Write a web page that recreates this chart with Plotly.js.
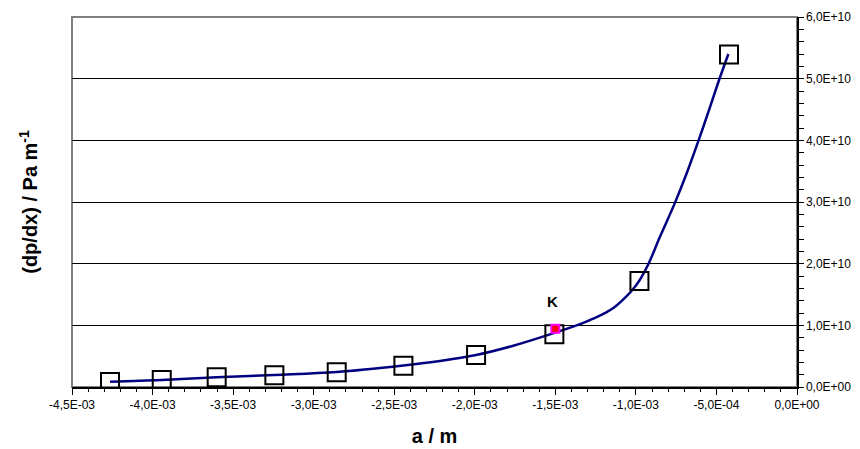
<!DOCTYPE html>
<html>
<head>
<meta charset="utf-8">
<script src="https://cdn.plot.ly/plotly-3.0.1.min.js"></script>
<style>
  html, body { margin: 0; padding: 0; background: #ffffff; }
  #chart { width: 860px; height: 449px; }
</style>
</head>
<body>
<div id="chart"></div>
<script>
// Measured points (crack length a, pressure gradient dp/dx)
const aMeasured = [-4.264e-3, -3.943e-3, -3.602e-3, -3.244e-3, -2.857e-3, -2.443e-3, -1.992e-3, -1.506e-3, -0.978e-3, -0.422e-3];
const dpdxMeasured = [0.81e9, 1.13e9, 1.57e9, 1.90e9, 2.38e9, 3.45e9, 5.19e9, 8.54e9, 1.72e10, 5.39e10];

// Model curve
const aCurve = [-4.264e-3, -3.943e-3, -3.602e-3, -3.244e-3, -2.857e-3, -2.443e-3, -2.216e-3, -1.992e-3,
                -1.761e-3, -1.491e-3, -1.326e-3, -1.264e-3, -1.181e-3, -1.140e-3, -1.078e-3, -1.026e-3,
                -0.978e-3, -0.923e-3, -0.850e-3, -0.757e-3, -0.684e-3, -0.612e-3, -0.550e-3, -0.482e-3, -0.426e-3];
const dpdxCurve = [0.86e9, 1.14e9, 1.57e9, 1.95e9, 2.43e9, 3.49e9, 4.22e9, 5.19e9,
                   6.70e9, 8.90e9, 1.04e10, 1.11e10, 1.215e10, 1.28e10, 1.42e10, 1.56e10,
                   1.727e10, 1.99e10, 2.44e10, 2.99e10, 3.47e10, 3.99e10, 4.46e10, 4.99e10, 5.40e10];

// Point K
const aK = [-1.5e-3];
const dpdxK = [9.45e9];
const labelK = 'K';

// Axis ticks
const xTickVals = [-4.5e-3, -4.0e-3, -3.5e-3, -3.0e-3, -2.5e-3, -2.0e-3, -1.5e-3, -1.0e-3, -5.0e-4, 0];
const xTickText = ['-4,5E-03', '-4,0E-03', '-3,5E-03', '-3,0E-03', '-2,5E-03', '-2,0E-03', '-1,5E-03', '-1,0E-03', '-5,0E-04', '0,0E+00'];
const yTickVals = [0, 1e10, 2e10, 3e10, 4e10, 5e10, 6e10];
const yTickText = ['0,0E+00', '1,0E+10', '2,0E+10', '3,0E+10', '4,0E+10', '5,0E+10', '6,0E+10'];

const xRange = [-4.5e-3, 0];
const yRange = [0, 6e10];

const tickFont = { family: 'Liberation Sans, Arial, sans-serif', size: 12, color: '#000000' };
const titleFont = { family: 'Liberation Sans, Arial, sans-serif', size: 20, color: '#000000' };

const traces = [
  {
    x: aCurve, y: dpdxCurve, type: 'scatter', mode: 'lines',
    line: { color: '#000080', width: 2.5, shape: 'spline', smoothing: 1 },
    hoverinfo: 'skip', showlegend: false
  },
  {
    x: aMeasured, y: dpdxMeasured, type: 'scatter', mode: 'markers',
    marker: { symbol: 'square-open', size: 18, color: '#000000', line: { color: '#000000', width: 2 } },
    showlegend: false
  },
  {
    x: aK, y: dpdxK, type: 'scatter', mode: 'markers',
    marker: { symbol: 'square', size: 8, color: '#ff0000', line: { color: '#ff00ff', width: 2 } },
    showlegend: false
  }
];

const layout = {
  width: 860, height: 449,
  margin: { l: 72, r: 63, t: 17, b: 62 },
  paper_bgcolor: '#ffffff', plot_bgcolor: '#ffffff',
  showlegend: false,
  xaxis: {
    range: xRange, tickmode: 'array', tickvals: xTickVals, ticktext: xTickText,
    ticks: 'outside', ticklen: 6, tickwidth: 1, tickcolor: '#000000',
    minor: { tickmode: 'linear', tick0: 0, dtick: 1e-4, ticks: 'outside', ticklen: 3, tickcolor: '#000000', showgrid: false },
    showline: true, linecolor: '#000000', linewidth: 1.5,
    showgrid: false, zeroline: false, tickfont: tickFont,
    title: { text: '<b>a / m</b>', font: titleFont, standoff: 18 }
  },
  xaxis2: {
    range: xRange, overlaying: 'x', anchor: 'y', side: 'bottom',
    tickmode: 'array', tickvals: xTickVals, showticklabels: false,
    ticks: 'inside', ticklen: 2, tickwidth: 1, tickcolor: '#000000',
    minor: { tickmode: 'linear', tick0: 0, dtick: 1e-4, ticks: 'inside', ticklen: 2, tickcolor: '#000000', showgrid: false },
    showline: false, showgrid: false, zeroline: false
  },
  yaxis: {
    range: yRange, side: 'right', tickmode: 'array', tickvals: yTickVals, ticktext: yTickText,
    ticks: 'outside', ticklen: 5, tickwidth: 1, tickcolor: '#000000',
    minor: { tickmode: 'linear', tick0: 0, dtick: 2e9, ticks: 'outside', ticklen: 5, tickcolor: '#000000', showgrid: false },
    showline: true, linecolor: '#000000', linewidth: 1.5,
    showgrid: true, gridcolor: '#000000', gridwidth: 1,
    zeroline: false, tickfont: tickFont
  },
  yaxis2: {
    range: yRange, overlaying: 'y', anchor: 'x', side: 'right',
    tickmode: 'array', tickvals: yTickVals, showticklabels: false,
    ticks: 'inside', ticklen: 2, tickwidth: 1, tickcolor: '#000000',
    minor: { tickmode: 'linear', tick0: 0, dtick: 2e9, ticks: 'inside', ticklen: 2, tickcolor: '#000000', showgrid: false },
    showline: false, showgrid: false, zeroline: false
  },
  shapes: [
    // grey frame of the plot area (right and bottom edges are covered by the axes)
    { type: 'rect', xref: 'x domain', yref: 'y domain', x0: 0, x1: 1, y0: 0, y1: 1,
      line: { color: '#808080', width: 2 }, layer: 'below' }
  ],
  annotations: [
    { x: aK[0], y: dpdxK[0], xref: 'x', yref: 'y', text: '<b>' + labelK + '</b>', showarrow: false,
      xshift: -3, yshift: 27, font: { family: 'Liberation Sans, Arial, sans-serif', size: 15, color: '#000000' } },
    { x: -0.061, y: 0.5, xref: 'paper', yref: 'paper', xanchor: 'center', yanchor: 'middle',
      textangle: -90, showarrow: false, text: '<b>(dp/dx) / Pa m<sup>-1</sup></b>', font: titleFont }
  ]
};

Plotly.newPlot('chart', traces, layout, { displayModeBar: false, staticPlot: true });
</script>
</body>
</html>
